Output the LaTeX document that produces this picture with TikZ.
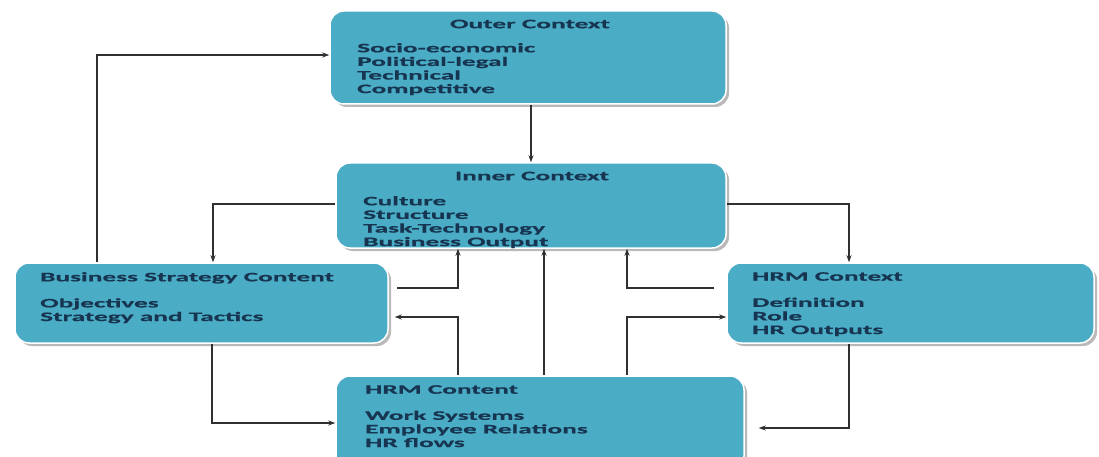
\documentclass[tikz,border=0pt]{standalone}
\usepackage{fontspec}
\setmainfont{Carlito}[FakeStretch=2.1,FakeBold=0.6]
\usetikzlibrary{shadows,arrows.meta}
\definecolor{boxfill}{HTML}{4BACC6}
\definecolor{boxtext}{HTML}{173550}
\definecolor{linecol}{HTML}{303030}
\tikzset{
  box/.style={draw=white, line width=1.5pt, fill=boxfill, rounded corners=14pt,
    drop shadow={shadow xshift=3pt, shadow yshift=-3pt, fill=gray!55, opacity=1},
    inner sep=0pt},
  txt/.style={font=\bfseries\fontsize{13}{13.6}\selectfont, text=boxtext, inner sep=0pt, align=left},
  arr/.style={draw=linecol, line width=1.1pt, -{Stealth[length=7pt,width=5pt]}},
}
\begin{document}
\begin{tikzpicture}[x=1pt,y=-1pt]
\useasboundingbox (0,0) rectangle (1099,457);
% boxes
\node[box, minimum width=396pt, minimum height=93pt] (outer) at (528,57.5) {};
\node[box, minimum width=390pt, minimum height=85pt] (inner) at (531,205.5) {};
\node[box, minimum width=373pt, minimum height=80pt] (bsc) at (201.5,303) {};
\node[box, minimum width=367pt, minimum height=80pt] (hrmctx) at (910.5,303) {};
\node[box, minimum width=408pt, minimum height=94pt] (hrmcon) at (540,423) {};
% texts
\node[txt] (outerT) at (530,24) {Outer Context};
\node[txt, anchor=north west] (outerL) at (357,43) {Socio-economic\\Political-legal\\Technical\\Competitive};
\node[txt] (innerT) at (532,176) {Inner Context};
\node[txt, anchor=north west] (innerL) at (363,196) {Culture\\Structure\\Task-Technology\\Business Output};
\node[txt, anchor=north west] (bscL) at (40,272) {Business Strategy Content\\[12.5pt]Objectives\\Strategy and Tactics};
\node[txt, anchor=north west] (hrmctxL) at (752,272) {HRM Context\\[12.5pt]Definition\\Role\\HR Outputs};
\node[txt, anchor=north west] (hrmconL) at (365,385) {HRM Content\\[12.5pt]Work Systems\\Employee Relations\\HR flows};
% connectors
\draw[arr] (outer.south -| 531,0) -- (inner.north -| 531,0);
\draw[arr] (bsc.north -| 97,0) |- (outer.west |- 0,55);
\draw[arr] (inner.west |- 0,204) -| (bsc.north -| 213,0);
\draw[arr] (inner.east |- 0,204) -| (hrmctx.north -| 849,0);
\draw[arr, shorten <=8pt] (bsc.east |- 0,288) -| (inner.south -| 458,0);
\draw[arr, shorten >=6pt] (hrmcon.north -| 458,0) |- (bsc.east |- 0,317);
\draw[arr] (hrmcon.north -| 544,0) -- (inner.south -| 544,0);
\draw[arr, shorten <=12pt] (hrmctx.west |- 0,288) -| (inner.south -| 627,0);
\draw[arr] (hrmcon.north -| 627,0) |- (hrmctx.west |- 0,317);
\draw[arr] (bsc.south -| 212,0) |- (hrmcon.west |- 0,423);
\draw[arr, shorten >=14pt] (hrmctx.south -| 849,0) |- (hrmcon.east |- 0,428);
\end{tikzpicture}
\end{document}
